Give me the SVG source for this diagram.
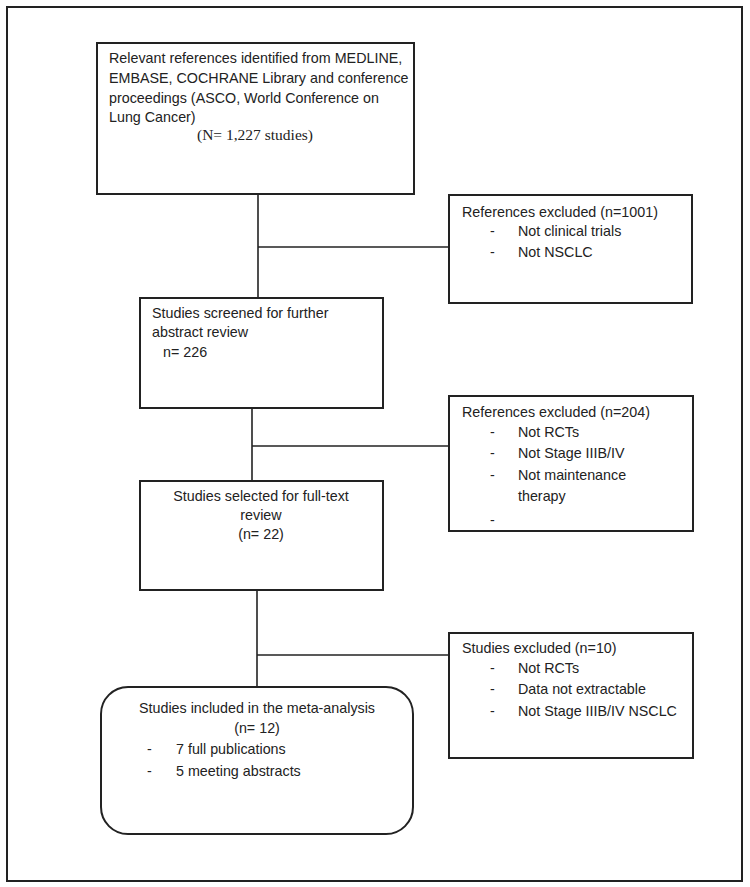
<svg xmlns="http://www.w3.org/2000/svg" width="750" height="887" viewBox="0 0 750 887">
<style>
.box{fill:#fff;stroke:#222;stroke-width:2}
.ln{fill:none;stroke:#222;stroke-width:1.6}
.t{font-family:"Liberation Sans",Arial,sans-serif;font-size:14.3px;fill:#222}
.c{text-anchor:middle}
.s{font-family:"Liberation Serif","Times New Roman",serif;font-size:15.5px;fill:#222}
</style>
<rect x="0" y="0" width="750" height="887" fill="#fff"/>
<rect x="7" y="7" width="735" height="874" fill="none" stroke="#222" stroke-width="2"/>
<g id="connectors">
<line class="ln" x1="258" y1="194" x2="258" y2="298"/>
<line class="ln" x1="258" y1="247" x2="449" y2="247"/>
<line class="ln" x1="252" y1="408" x2="252" y2="481"/>
<line class="ln" x1="252" y1="446" x2="449" y2="446"/>
<line class="ln" x1="257" y1="590" x2="257" y2="687"/>
<line class="ln" x1="257" y1="655" x2="449" y2="655"/>
</g>
<g id="identified">
<rect class="box" x="97" y="43" width="317" height="151"/>
<text class="t" x="109" y="63">Relevant references identified from MEDLINE,</text>
<text class="t" x="109" y="83">EMBASE, COCHRANE Library and conference</text>
<text class="t" x="109" y="103">proceedings (ASCO, World Conference on</text>
<text class="t" x="109" y="122">Lung Cancer)</text>
<text class="s c" x="255" y="140">(N= 1,227 studies)</text>
</g>
<g id="excluded1">
<rect class="box" x="449" y="195" width="243" height="108"/>
<text class="t" x="462" y="217">References excluded (n=1001)</text>
<text class="t" x="490" y="236">-</text>
<text class="t" x="518" y="236">Not clinical trials</text>
<text class="t" x="490" y="257">-</text>
<text class="t" x="518" y="257">Not NSCLC</text>
</g>
<g id="screened">
<rect class="box" x="140" y="298" width="243" height="110"/>
<text class="t" x="152" y="318">Studies screened for further</text>
<text class="t" x="152" y="337">abstract review</text>
<text class="t" x="163" y="357">n= 226</text>
</g>
<g id="excluded2">
<rect class="box" x="449" y="396" width="244" height="135"/>
<text class="t" x="462" y="417">References excluded (n=204)</text>
<text class="t" x="490" y="437">-</text>
<text class="t" x="518" y="437">Not RCTs</text>
<text class="t" x="490" y="458">-</text>
<text class="t" x="518" y="458">Not Stage IIIB/IV</text>
<text class="t" x="490" y="480">-</text>
<text class="t" x="518" y="480">Not maintenance</text>
<text class="t" x="518" y="501">therapy</text>
<text class="t" x="490" y="525">-</text>
</g>
<g id="selected">
<rect class="box" x="140" y="481" width="243" height="109"/>
<text class="t c" x="261" y="501">Studies selected for full-text</text>
<text class="t c" x="261" y="520">review</text>
<text class="t c" x="261" y="539">(n= 22)</text>
</g>
<g id="excluded3">
<rect class="box" x="449" y="633" width="244" height="125"/>
<text class="t" x="462" y="653">Studies excluded (n=10)</text>
<text class="t" x="490" y="673">-</text>
<text class="t" x="518" y="673">Not RCTs</text>
<text class="t" x="490" y="694">-</text>
<text class="t" x="518" y="694">Data not extractable</text>
<text class="t" x="490" y="716">-</text>
<text class="t" x="518" y="716">Not Stage IIIB/IV NSCLC</text>
</g>
<g id="included">
<rect class="box" x="101" y="687" width="312" height="147" rx="27" ry="27"/>
<text class="t c" x="257" y="713">Studies included in the meta-analysis</text>
<text class="t c" x="257" y="733">(n= 12)</text>
<text class="t" x="147" y="754">-</text>
<text class="t" x="176" y="754">7 full publications</text>
<text class="t" x="147" y="776">-</text>
<text class="t" x="176" y="776">5 meeting abstracts</text>
</g>
</svg>
